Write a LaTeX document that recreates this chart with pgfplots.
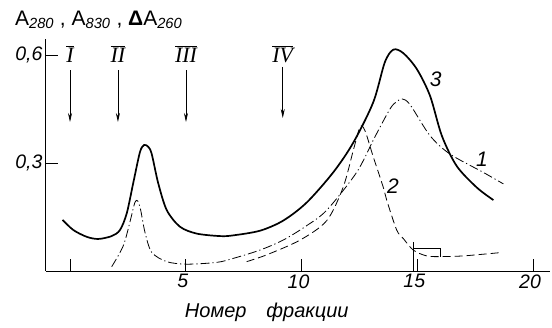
\documentclass[border=0pt]{standalone}
\usepackage{fontspec}
\setmainfont{Liberation Sans}
\newfontfamily\serifit{Liberation Serif}
\usepackage{pgfplots}
\pgfplotsset{compat=1.18}
\usetikzlibrary{arrows.meta}
\newcommand\rn[1]{\setbox0\hbox{\serifit\itshape #1}\vbox{\hrule width\wd0 height0.6pt\kern1pt\box0\kern1pt\hrule width\wd0 height0.6pt}}
\begin{document}
\begin{tikzpicture}
\begin{axis}[
  x=23.15pt, y=360pt, scale only axis,
  xmin=-1.04, xmax=20.75, ymin=0, ymax=0.645,
  axis lines*=left, axis line style={line width=0.9pt,-},
  clip=false,
  tick align=inside, major tick length=12pt,
  tick style={line width=0.8pt, black},
  xtick={0,5,10,15,20}, xticklabels={,5,10,15,20},
  ytick={0.3,0.6}, yticklabels={{0,3},{0,6}},
  ticklabel style={font=\itshape\fontsize{19.5}{19.5}\selectfont},
  xticklabel style={xshift=-3pt},
]
% curve 3 (solid)
\addplot[black, line width=1.7pt, smooth, tension=0.5] coordinates {
(-0.32,0.142) (0.14,0.114) (0.72,0.095) (1.22,0.089) (1.8,0.097) (2.16,0.114)
(2.45,0.16) (2.73,0.244) (3.02,0.33) (3.2,0.35) (3.38,0.345) (3.53,0.325)
(3.81,0.244) (4.18,0.169) (4.75,0.123) (5.47,0.104) (6.48,0.097) (7.05,0.099)
(8.21,0.112) (9.21,0.14) (10.22,0.19) (11.37,0.274) (12.24,0.357) (13.1,0.469)
(13.6,0.58) (13.97,0.615) (14.4,0.605) (14.98,0.561) (15.55,0.487) (16.06,0.376)
(16.7,0.292) (17.57,0.232) (18.29,0.197)};
% curve 1 (dash-dot)
\addplot[black, line width=0.8pt, smooth, tension=0.5, dash pattern=on 9pt off 3pt on 1.2pt off 3pt] coordinates {
(1.8,0.012) (2.3,0.07) (2.62,0.144) (2.8,0.19) (2.92,0.195) (3.05,0.17)
(3.24,0.107) (3.53,0.052) (4.18,0.026) (5.04,0.019) (6.34,0.024) (7.05,0.035)
(8.2,0.058) (9.21,0.086) (10.2,0.125) (11.09,0.169) (12.38,0.274) (13.15,0.37)
(13.82,0.45) (14.1,0.47) (14.35,0.478) (14.69,0.462) (15.55,0.376) (16.41,0.325)
(17.85,0.274) (18.72,0.242)};
% curve 2 (dashed)
\addplot[black, line width=0.8pt, smooth, tension=0.5, dash pattern=on 8pt off 4pt] coordinates {
(7.63,0.026) (8.5,0.045) (9.94,0.086) (11.09,0.14) (11.8,0.233) (12.24,0.336)
(12.53,0.40) (12.74,0.39) (13.1,0.317) (13.53,0.233) (13.68,0.197) (14.11,0.114)
(14.4,0.09) (14.83,0.058) (15.4,0.042) (16.0,0.04) (17,0.042) (18.57,0.051)};
% bracket
\addplot[black, line width=0.8pt] coordinates {(14.85,0.081) (14.85,0)};
\addplot[black, line width=0.8pt] coordinates {(14.85,0.064) (15.98,0.064) (15.98,0.04)};
% arrows
\addplot[black, line width=0.7pt, -{Stealth[length=9pt,width=4pt]}] coordinates {(0,0.558) (0,0.414)};
\addplot[black, line width=0.7pt, -{Stealth[length=9pt,width=4pt]}] coordinates {(2.07,0.558) (2.07,0.414)};
\addplot[black, line width=0.7pt, -{Stealth[length=9pt,width=4pt]}] coordinates {(5.01,0.558) (5.01,0.414)};
\addplot[black, line width=0.7pt, -{Stealth[length=9pt,width=4pt]}] coordinates {(9.19,0.567) (9.19,0.425)};
\node[font=\fontsize{22}{22}\selectfont, inner sep=0pt] at (axis cs:0,0.6) {\rn{I}};
\node[font=\fontsize{22}{22}\selectfont, inner sep=0pt] at (axis cs:2.07,0.6) {\rn{II}};
\node[font=\fontsize{22}{22}\selectfont, inner sep=0pt] at (axis cs:5.01,0.6) {\rn{III}};
\node[font=\fontsize{22}{22}\selectfont, inner sep=0pt] at (axis cs:9.19,0.6) {\rn{IV}};
% curve labels
\node[font=\itshape\fontsize{21}{21}\selectfont] at (axis cs:15.8,0.533) {3};
\node[font=\itshape\fontsize{21}{21}\selectfont] at (axis cs:17.8,0.31) {1};
\node[font=\itshape\fontsize{21}{21}\selectfont] at (axis cs:13.95,0.236) {2};
% axis labels
\node[anchor=base west, font=\fontsize{21}{21}\selectfont, inner sep=0pt] at (axis cs:-2.38,0.683)
  {A\textsubscript{\itshape 280} , A\textsubscript{\itshape 830} , \textbf{Δ}A\textsubscript{\itshape 260}};
\node[anchor=base, font=\itshape\fontsize{20}{20}\selectfont, inner sep=0pt] at (axis cs:8.5,-0.13)
  {Номер\quad фракции};
\coordinate (bl) at (axis cs:-3.024,-0.1556);
\coordinate (tr) at (axis cs:20.82,0.7528);
\end{axis}
\path (bl) rectangle (tr);
\end{tikzpicture}
\end{document}
